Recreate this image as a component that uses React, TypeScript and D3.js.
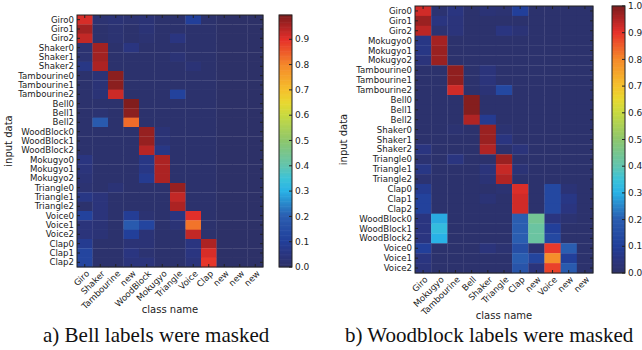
import React from 'react';
import * as d3 from 'd3';

// ---- data ----
const classesA = ['Giro', 'Shaker', 'Tambourine', 'Bell', 'WoodBlock', 'Mokugyo', 'Triangle', 'Voice', 'Clap'];
const colsA = ['Giro', 'Shaker', 'Tambourine', 'new', 'WoodBlock', 'Mokugyo', 'Triangle', 'Voice', 'Clap', 'new', 'new', 'new'];
const valuesA = [
  [0.91, 0.02, 0.03, 0.02, 0.03, 0.01, 0.01, 0.10, 0.01, 0, 0, 0],
  [0.96, 0.01, 0.02, 0.01, 0.03, 0.01, 0.01, 0.01, 0.01, 0, 0, 0],
  [0.93, 0.01, 0.02, 0.01, 0.02, 0.01, 0.05, 0.01, 0.01, 0, 0, 0],
  [0.02, 0.96, 0.01, 0.05, 0.01, 0.01, 0.01, 0.01, 0.01, 0, 0, 0],
  [0.02, 0.96, 0.01, 0.01, 0.01, 0.01, 0.03, 0.01, 0.01, 0, 0, 0],
  [0.06, 0.95, 0.01, 0.01, 0.01, 0.01, 0.01, 0.03, 0.01, 0, 0, 0],
  [0.01, 0.03, 0.98, 0.01, 0.01, 0.01, 0.01, 0.01, 0.01, 0, 0, 0],
  [0.01, 0.03, 0.98, 0.01, 0.01, 0.01, 0.01, 0.01, 0.01, 0, 0, 0],
  [0.01, 0.03, 0.92, 0.01, 0.01, 0.01, 0.11, 0.01, 0.01, 0, 0, 0],
  [0.01, 0.01, 0.01, 0.99, 0.01, 0.01, 0.01, 0.01, 0.01, 0, 0, 0],
  [0.01, 0.02, 0.01, 0.98, 0.01, 0.01, 0.01, 0.01, 0.01, 0, 0, 0],
  [0.01, 0.19, 0.01, 0.83, 0.01, 0.01, 0.01, 0.01, 0.01, 0, 0, 0],
  [0.01, 0.01, 0.01, 0.01, 0.97, 0.03, 0.01, 0.01, 0.01, 0, 0, 0],
  [0.01, 0.01, 0.01, 0.01, 0.97, 0.03, 0.01, 0.01, 0.01, 0, 0, 0],
  [0.01, 0.01, 0.01, 0.01, 0.94, 0.06, 0.01, 0.01, 0.01, 0, 0, 0],
  [0.05, 0.01, 0.01, 0.01, 0.06, 0.95, 0.01, 0.01, 0.01, 0, 0, 0],
  [0.04, 0.01, 0.01, 0.01, 0.06, 0.95, 0.01, 0.01, 0.01, 0, 0, 0],
  [0.03, 0.01, 0.01, 0.01, 0.08, 0.95, 0.01, 0.01, 0.01, 0, 0, 0],
  [0.02, 0.01, 0.03, 0.01, 0.01, 0.01, 0.97, 0.01, 0.01, 0, 0, 0],
  [0.06, 0.04, 0.01, 0.01, 0.01, 0.01, 0.93, 0.01, 0.01, 0, 0, 0],
  [0.01, 0.04, 0.01, 0.01, 0.01, 0.01, 0.95, 0.01, 0.01, 0, 0, 0],
  [0.11, 0.04, 0.01, 0.09, 0.02, 0.01, 0.05, 0.90, 0.01, 0, 0, 0],
  [0.04, 0.03, 0.01, 0.19, 0.12, 0.01, 0.03, 0.82, 0.01, 0, 0, 0],
  [0.04, 0.03, 0.01, 0.10, 0.03, 0.01, 0.01, 0.93, 0.01, 0, 0, 0],
  [0.08, 0.01, 0.01, 0.03, 0.03, 0.01, 0.01, 0.05, 0.95, 0, 0, 0],
  [0.12, 0.01, 0.01, 0.05, 0.02, 0.01, 0.01, 0.05, 0.91, 0, 0, 0],
  [0.12, 0.01, 0.01, 0.04, 0.04, 0.01, 0.01, 0.04, 0.89, 0, 0, 0],
];

const classesB = ['Giro', 'Mokugyo', 'Tambourine', 'Bell', 'Shaker', 'Triangle', 'Clap', 'WoodBlock', 'Voice'];
const colsB = ['Giro', 'Mokugyo', 'Tambourine', 'Bell', 'Shaker', 'Triangle', 'Clap', 'new', 'Voice', 'new', 'new'];
const valuesB = [
  [0.92, 0.02, 0.05, 0.01, 0.03, 0.02, 0.10, 0.01, 0.01, 0.01, 0.01],
  [0.97, 0.05, 0.04, 0.01, 0.01, 0.01, 0.01, 0.01, 0.01, 0.01, 0.01],
  [0.94, 0.02, 0.04, 0.01, 0.01, 0.05, 0.03, 0.01, 0.01, 0.01, 0.01],
  [0.06, 0.96, 0.01, 0.01, 0.01, 0.01, 0.01, 0.01, 0.01, 0.01, 0.01],
  [0.06, 0.97, 0.01, 0.01, 0.01, 0.01, 0.01, 0.01, 0.01, 0.01, 0.01],
  [0.04, 0.97, 0.01, 0.01, 0.01, 0.01, 0.01, 0.01, 0.01, 0.01, 0.01],
  [0.01, 0.01, 0.98, 0.01, 0.04, 0.01, 0.01, 0.01, 0.01, 0.01, 0.01],
  [0.01, 0.01, 0.98, 0.01, 0.04, 0.01, 0.01, 0.01, 0.01, 0.01, 0.01],
  [0.01, 0.01, 0.92, 0.01, 0.03, 0.13, 0.01, 0.01, 0.01, 0.01, 0.01],
  [0.01, 0.01, 0.01, 0.99, 0.01, 0.01, 0.01, 0.01, 0.01, 0.01, 0.01],
  [0.01, 0.01, 0.01, 0.99, 0.01, 0.01, 0.01, 0.01, 0.01, 0.01, 0.01],
  [0.01, 0.01, 0.01, 0.95, 0.08, 0.01, 0.01, 0.01, 0.01, 0.01, 0.01],
  [0.01, 0.01, 0.02, 0.01, 0.97, 0.02, 0.01, 0.01, 0.01, 0.01, 0.01],
  [0.01, 0.01, 0.01, 0.01, 0.97, 0.05, 0.01, 0.01, 0.01, 0.01, 0.01],
  [0.05, 0.01, 0.01, 0.01, 0.95, 0.01, 0.04, 0.01, 0.01, 0.01, 0.01],
  [0.02, 0.01, 0.05, 0.01, 0.01, 0.97, 0.01, 0.01, 0.01, 0.01, 0.01],
  [0.06, 0.01, 0.01, 0.01, 0.04, 0.93, 0.03, 0.01, 0.01, 0.01, 0.01],
  [0.02, 0.01, 0.01, 0.01, 0.03, 0.95, 0.01, 0.01, 0.01, 0.01, 0.01],
  [0.08, 0.01, 0.01, 0.01, 0.01, 0.02, 0.91, 0.01, 0.13, 0.03, 0.01],
  [0.11, 0.01, 0.01, 0.01, 0.03, 0.01, 0.92, 0.01, 0.13, 0.06, 0.01],
  [0.11, 0.01, 0.01, 0.01, 0.01, 0.01, 0.92, 0.01, 0.13, 0.05, 0.01],
  [0.05, 0.29, 0.01, 0.01, 0.01, 0.01, 0.20, 0.44, 0.05, 0.02, 0.01],
  [0.05, 0.33, 0.01, 0.01, 0.01, 0.01, 0.20, 0.42, 0.10, 0.01, 0.01],
  [0.05, 0.30, 0.01, 0.01, 0.01, 0.01, 0.20, 0.42, 0.13, 0.01, 0.01],
  [0.10, 0.01, 0.01, 0.01, 0.04, 0.02, 0.15, 0.02, 0.89, 0.20, 0.01],
  [0.05, 0.01, 0.01, 0.01, 0.01, 0.01, 0.20, 0.12, 0.79, 0.10, 0.01],
  [0.04, 0.01, 0.01, 0.01, 0.01, 0.01, 0.17, 0.04, 0.88, 0.19, 0.01],
];

const ticksA = [0, 0.1, 0.2, 0.3, 0.4, 0.5, 0.6, 0.7, 0.8, 0.9];
const ticksB = [0, 0.1, 0.2, 0.3, 0.4, 0.5, 0.6, 0.7, 0.8, 0.9, 1.0];

// jet-like map, washed out as in the scan
const cmapStops = [0, 0.05, 0.1, 0.2, 0.3, 0.35, 0.4, 0.5, 0.6, 0.65, 0.7, 0.8, 0.9, 0.95, 1];
const cmapColors = ['#2d3168', '#2a3580', '#223f9a', '#2a5db0', '#29b2e6', '#3cc3d8', '#62c4ae', '#8ec66c', '#c8da40', '#e8d830', '#f5c02c', '#f5882a', '#e6302a', '#b02424', '#7a1c1c'];
const cmap = d3.scaleLinear<string>().domain(cmapStops).range(cmapColors).interpolate(d3.interpolateRgb).clamp(true);

const rowNames = (classes) => classes.flatMap((c) => [0, 1, 2].map((i) => c + i));

const FONT = 'DejaVu Sans, sans-serif';

const Heatmap = ({ rows, cols, values, x0, x1, y0, y1, cb0, vmax, ticks, caption, capX, ylabX }) => {
  const xScale = d3.scaleBand().domain(d3.range(cols.length)).range([x0, x1]);
  const yScale = d3.scaleBand().domain(d3.range(rows.length)).range([y0, y1]);
  const cbScale = d3.scaleLinear().domain([0, vmax]).range([y1, y0]);
  const cbSteps = d3.range(0, 200).map((i) => (i / 200) * vmax);
  const stepH = (y1 - y0) / 200;
  const cbW = 13;
  const midY = (y0 + y1) / 2;
  return (
    <g>
      {values.map((row, i) =>
        row.map((v, j) => (
          <rect key={i + '-' + j} x={xScale(j)} y={yScale(i)} width={xScale.bandwidth() + 0.3} height={yScale.bandwidth() + 0.3} fill={cmap(v / vmax)} />
        )),
      )}
      <rect x={x0} y={y0} width={x1 - x0} height={y1 - y0} fill="none" stroke="#222" strokeWidth={1} />
      {rows.map((r, i) => {
        const y = yScale(i) + yScale.bandwidth() / 2;
        return (
          <g key={'r' + i}>
            <line x1={x0} x2={x0 + 3} y1={y} y2={y} stroke="#222" />
            <line x1={x1 - 3} x2={x1} y1={y} y2={y} stroke="#222" />
            <text x={x0 - 3} y={y} dy="0.35em" textAnchor="end" fontSize={8.6} fontFamily={FONT} fill="#222">{r}</text>
          </g>
        );
      })}
      {cols.map((c, j) => {
        const x = xScale(j) + xScale.bandwidth() / 2;
        return (
          <g key={'c' + j}>
            <line x1={x} x2={x} y1={y1} y2={y1 - 3} stroke="#222" />
            <line x1={x} x2={x} y1={y0} y2={y0 + 3} stroke="#222" />
            <text transform={'translate(' + (x + 3) + ',' + (y1 + 5) + ') rotate(-45)'} textAnchor="end" dy="0.35em" fontSize={8.6} fontFamily={FONT} fill="#222">{c}</text>
          </g>
        );
      })}
      <text x={(x0 + x1) / 2} y={y1 + 46} textAnchor="middle" fontSize={10} fontFamily={FONT} fill="#222">class name</text>
      <text transform={'translate(' + ylabX + ',' + midY + ') rotate(-90)'} textAnchor="middle" dy="0.35em" fontSize={10} fontFamily={FONT} fill="#222">input data</text>
      {cbSteps.map((v, i) => (
        <rect key={'cb' + i} x={cb0} y={cbScale(v) - stepH - 0.3} width={cbW} height={stepH + 0.6} fill={cmap(v / vmax)} />
      ))}
      <rect x={cb0} y={y0} width={cbW} height={y1 - y0} fill="none" stroke="#222" strokeWidth={1} />
      {ticks.map((t) => (
        <g key={'t' + t}>
          <line x1={cb0 + cbW - 3} x2={cb0 + cbW} y1={cbScale(t)} y2={cbScale(t)} stroke="#222" />
          <text x={cb0 + cbW + 3} y={cbScale(t)} dy="0.35em" fontSize={9} fontFamily={FONT} fill="#222">{d3.format('.1f')(t)}</text>
        </g>
      ))}
      <text x={capX} y={342} fontSize={21} fontFamily="Liberation Serif, serif" fill="#111">{caption}</text>
    </g>
  );
};

export default function App() {
  return (
    <svg width={642} height={350} style={{ position: 'absolute', left: 0, top: 0, background: '#fff' }}>
      <Heatmap rows={rowNames(classesA)} cols={colsA} values={valuesA} x0={77} x1={263} y0={15} y1={267} cb0={279} vmax={0.996} ticks={ticksA} caption="a) Bell labels were masked" capX={43} ylabX={8} />
      <Heatmap rows={rowNames(classesB)} cols={colsB} values={valuesB} x0={415} x1={593} y0={6} y1={273} cb0={612} vmax={1.0} ticks={ticksB} caption="b) Woodblock labels were masked" capX={345} ylabX={343} />
    </svg>
  );
}
